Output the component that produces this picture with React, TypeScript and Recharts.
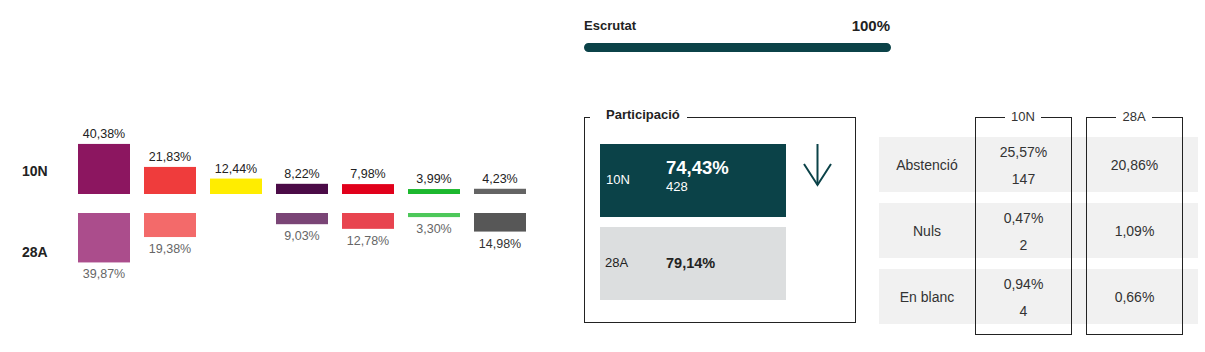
import React from 'react';
import { BarChart, Bar, XAxis, YAxis, Cell } from 'recharts';

// ---- Data ----
const parties = ['Partit A', 'Partit B', 'Partit C', 'Partit D', 'Partit E', 'Partit F', 'Partit G'];
const values10N: (number | null)[] = [40.38, 21.83, 12.44, 8.22, 7.98, 3.99, 4.23];
const values28A: (number | null)[] = [39.87, 19.38, null, 9.03, 12.78, 3.3, 14.98];
const rowLabels = ['10N', '28A'];

const escrutat = [{ name: 'Escrutat', value: 100 }];

const participacioLabels = ['10N', '28A'];
const participacioPct = [74.43, 79.14];
const participacioVots = [428, null];

const tableRows = ['Abstenció', 'Nuls', 'En blanc'];
const tablePct10N = [25.57, 0.47, 0.94];
const tableVots10N = [147, 2, 4];
const tablePct28A = [20.86, 1.09, 0.66];

// ---- Styles ----
const colors10N = ['#8c1660', '#ef3c3c', '#ffed00', '#4b0b47', '#e1001b', '#1cb82e', '#646464'];
const colors28A = ['#ab4d8c', '#f36a6a', '#ffed00', '#7a4576', '#e8444f', '#4dc85a', '#575757'];
const labelColors28A = ['#666', '#666', '#666', '#666', '#666', '#666', '#333'];
const FONT = '"Liberation Sans", Arial, Helvetica, sans-serif';
const TEAL = '#0b4248';

const fmt = (v: number) => v.toFixed(2).replace('.', ',') + '%';

const data = parties.map((p, i) => ({ party: p, v10N: values10N[i], v28A: values28A[i] }));

const makeShape = (key: 'v10N' | 'v28A') => (props: any) => {
  const { x, y, width, height, fill, index } = props;
  const v = props.payload ? props.payload[key] : key === 'v10N' ? values10N[index] : values28A[index];
  if (v == null || x == null || isNaN(y)) return <g />;
  const top = Math.min(y, y + height);
  const h = Math.abs(height);
  const up = key === 'v10N';
  const i = props.payload ? parties.indexOf(props.payload.party) : index;
  return (
    <g>
      <rect x={x} y={top} width={width} height={h} fill={fill} />
      <text
        x={x + width / 2}
        y={up ? top - 6 : top + h + 16}
        textAnchor="middle"
        fontSize={12.5}
        fontFamily={FONT}
        fill={up ? '#222' : labelColors28A[i]}
      >
        {fmt(v)}
      </text>
    </g>
  );
};

const abs = (left: number, top: number, extra: React.CSSProperties = {}): React.CSSProperties => ({
  position: 'absolute',
  left,
  top,
  ...extra,
});

export default function App() {
  return (
    <div
      style={{
        position: 'absolute',
        left: 0,
        top: 0,
        width: 1205,
        height: 352,
        background: '#fff',
        fontFamily: FONT,
        color: '#333',
        overflow: 'hidden',
      }}
    >
      {/* Row labels */}
      <div style={abs(22, 162, { fontSize: 14, fontWeight: 'bold', color: '#222', lineHeight: '18px' })}>{rowLabels[0]}</div>
      <div style={abs(22, 243, { fontSize: 14, fontWeight: 'bold', color: '#222', lineHeight: '18px' })}>{rowLabels[1]}</div>

      {/* 10N bars (upward) */}
      <div style={abs(0, 100)}>
        <BarChart width={600} height={100} data={data} margin={{ top: 32, right: 67, bottom: 6, left: 71 }}>
          <XAxis dataKey="party" hide />
          <YAxis hide domain={[0, 50]} />
          <Bar dataKey="v10N" barSize={52} isAnimationActive={false} shape={makeShape('v10N')}>
            {data.map((d, i) => (
              <Cell key={d.party} fill={colors10N[i]} />
            ))}
          </Bar>
        </BarChart>
      </div>

      {/* 28A bars (downward) */}
      <div style={abs(0, 200)}>
        <BarChart width={600} height={100} data={data} margin={{ top: 13, right: 67, bottom: 25, left: 71 }}>
          <XAxis dataKey="party" hide />
          <YAxis hide domain={[0, 50]} reversed />
          <Bar dataKey="v28A" barSize={52} isAnimationActive={false} shape={makeShape('v28A')}>
            {data.map((d, i) => (
              <Cell key={d.party} fill={colors28A[i]} />
            ))}
          </Bar>
        </BarChart>
      </div>

      {/* Escrutat */}
      <div style={abs(584, 17, { fontSize: 13, fontWeight: 'bold', color: '#222', lineHeight: '18px' })}>{escrutat[0].name}</div>
      <div style={abs(790, 16, { width: 100, textAlign: 'right', fontSize: 15, fontWeight: 'bold', color: '#222', lineHeight: '20px' })}>
        {escrutat[0].value}%
      </div>
      <div style={abs(584, 42)}>
        <BarChart layout="vertical" width={307} height={10} data={escrutat} margin={{ top: 0, right: 0, bottom: 0, left: 0 }}>
          <XAxis type="number" hide domain={[0, 100]} />
          <YAxis type="category" dataKey="name" hide />
          <Bar dataKey="value" fill={TEAL} barSize={10} radius={5} isAnimationActive={false} />
        </BarChart>
      </div>

      {/* Participació */}
      <div style={abs(584, 117, { width: 272, height: 206, border: '1px solid #222', boxSizing: 'border-box' })} />
      <div
        style={abs(590, 107, {
          background: '#fff',
          padding: '0 7px 0 16px',
          fontSize: 13,
          fontWeight: 'bold',
          color: '#222',
          lineHeight: '16px',
        })}
      >
        Participació
      </div>
      <div style={abs(600, 144, { width: 186, height: 73, background: TEAL })} />
      <div style={abs(606, 172, { fontSize: 13, color: '#fff', lineHeight: '16px' })}>{participacioLabels[0]}</div>
      <div style={abs(666, 157, { fontSize: 18.5, fontWeight: 'bold', color: '#fff', lineHeight: '22px' })}>
        {fmt(participacioPct[0])}
      </div>
      <div style={abs(666, 179, { fontSize: 13, color: '#fff', lineHeight: '16px' })}>{participacioVots[0]}</div>
      <svg style={abs(800, 140)} width={36} height={50}>
        <line x1={17.5} y1={4} x2={17.5} y2={45} stroke={TEAL} strokeWidth={2} />
        <polyline points="4,24 17.5,45 31,24" fill="none" stroke={TEAL} strokeWidth={2} />
      </svg>
      <div style={abs(600, 227, { width: 186, height: 73, background: '#dcdedf' })} />
      <div style={abs(605, 255, { fontSize: 13, color: '#222', lineHeight: '16px' })}>{participacioLabels[1]}</div>
      <div style={abs(666, 254, { fontSize: 14.5, fontWeight: 'bold', color: '#222', lineHeight: '18px' })}>
        {fmt(participacioPct[1])}
      </div>

      {/* Table */}
      {tableRows.map((r, i) => {
        const top = [137, 203, 269][i];
        return (
          <div key={r}>
            <div style={abs(879, top, { width: 319, height: 55, background: '#f1f1f1' })} />
            <div style={abs(879, top + 19, { width: 96, textAlign: 'center', fontSize: 14, lineHeight: '18px', color: '#333' })}>{r}</div>
          </div>
        );
      })}
      <div style={abs(975, 117, { width: 97, height: 218, border: '1px solid #222', boxSizing: 'border-box' })} />
      <div style={abs(1086, 117, { width: 97, height: 218, border: '1px solid #222', boxSizing: 'border-box' })} />
      <div style={abs(1005, 109, { width: 36, textAlign: 'center', background: '#fff', fontSize: 13, lineHeight: '16px', color: '#333' })}>
        10N
      </div>
      <div style={abs(1116, 109, { width: 36, textAlign: 'center', background: '#fff', fontSize: 13, lineHeight: '16px', color: '#333' })}>
        28A
      </div>
      {tableRows.map((r, i) => {
        const top = [137, 203, 269][i];
        return (
          <div key={r + 'v'}>
            <div style={abs(975, top + 6, { width: 97, textAlign: 'center', fontSize: 14, lineHeight: '18px', color: '#333' })}>
              {fmt(tablePct10N[i])}
            </div>
            <div style={abs(975, top + 33, { width: 97, textAlign: 'center', fontSize: 14, lineHeight: '18px', color: '#333' })}>
              {tableVots10N[i]}
            </div>
            <div style={abs(1086, top + 19, { width: 97, textAlign: 'center', fontSize: 14, lineHeight: '18px', color: '#333' })}>
              {fmt(tablePct28A[i])}
            </div>
          </div>
        );
      })}
    </div>
  );
}
